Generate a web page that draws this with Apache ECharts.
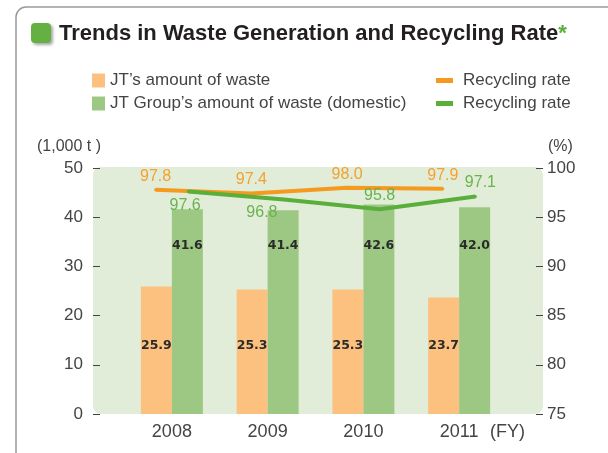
<!DOCTYPE html>
<html>
<head>
<meta charset="utf-8">
<script src="https://cdn.jsdelivr.net/npm/echarts@6/dist/echarts.min.js"></script>
<style>
  html, body { margin: 0; padding: 0; background: #fff; }
  #chart { width: 608px; height: 453px; }
</style>
</head>
<body>
<div id="chart"></div>
<script>
var years = ['2008', '2009', '2010', '2011'];
var jtWaste = [25.9, 25.3, 25.3, 23.7];
var groupWaste = [41.6, 41.4, 42.6, 42.0];
var jtRate = [97.8, 97.4, 98.0, 97.9];
var groupRate = [97.6, 96.8, 95.8, 97.1];
var leftTicks = { min: 0, max: 50, interval: 10 };
var rightTicks = { min: 75, max: 100, interval: 5 };

var FONT = '"Liberation Sans", Arial, sans-serif';
var textGrey = '#444';

// lines sit over their own bar, not on the category centre
function shifted(vals, shift) {
  return vals.map(function (v, i) { return [i + shift, v]; });
}
// green labels dodge the line
var greenLabelPos = [
  { position: 'bottom', offset: [-3, 0] },
  { position: 'bottom', offset: [-22, 0] },
  { position: 'top', offset: [0, 0] },
  { position: 'top', offset: [5, 0] }
];

var chart = echarts.init(document.getElementById('chart'), null, { renderer: 'canvas' });

var option = {
  animation: false,
  backgroundColor: '#fff',
  textStyle: { fontFamily: FONT },
  title: {
    left: 59,
    top: 23,
    padding: 0,
    text: '{a|Trends in Waste Generation and Recycling Rate}{b|*}',
    textStyle: {
      rich: {
        a: { fontFamily: FONT, fontWeight: 'bold', fontSize: 22, color: '#231f20' },
        b: { fontFamily: FONT, fontWeight: 'bold', fontSize: 22, color: '#5aae3a', verticalAlign: 'top' }
      }
    }
  },
  legend: [{
    left: 92,
    top: 72,
    padding: 0,
    orient: 'vertical',
    itemWidth: 13,
    itemHeight: 14,
    itemGap: 6,
    icon: 'rect',
    textStyle: { fontFamily: FONT, fontSize: 17, color: textGrey, lineHeight: 17 },
    data: ['JT\u2019s amount of waste', 'JT Group\u2019s amount of waste (domestic)']
  }, {
    left: 436,
    top: 72,
    padding: 0,
    orient: 'vertical',
    itemWidth: 17,
    itemHeight: 5,
    itemGap: 6,
    icon: 'rect',
    textStyle: { fontFamily: FONT, fontSize: 17, color: textGrey, lineHeight: 17, padding: [0, 0, 0, 5] },
    formatter: function () { return 'Recycling rate'; },
    data: ['rate-jt', 'rate-group']
  }],
  graphic: [
    { type: 'rect', z: -10, shape: { x: 16, y: 7, width: 800, height: 600, r: 10 },
      style: { fill: '#fff', stroke: '#9a9a9a', lineWidth: 1.5 } },
    { type: 'rect', z: -10, shape: { x: 31, y: 23, width: 20, height: 20, r: 4 },
      style: { fill: '#64b043', shadowBlur: 3, shadowOffsetX: 2, shadowOffsetY: 2, shadowColor: 'rgba(0,0,0,0.35)' } },
    { type: 'rect', z: -5, shape: { x: 93, y: 167, width: 450, height: 247, r: 8 },
      style: { fill: '#e1edd9' } },
    { type: 'text', left: 37, top: 139,
      style: { text: '(1,000 t )', fontFamily: FONT, fontSize: 16, fill: textGrey } },
    { type: 'text', left: 548, top: 139,
      style: { text: '(%)', fontFamily: FONT, fontSize: 16, fill: textGrey } },
    { type: 'text', left: 490, top: 423,
      style: { text: '(FY)', fontFamily: FONT, fontSize: 18, fill: textGrey } }
  ],
  grid: { left: 124, right: 101, top: 168, bottom: 39 },
  xAxis: [{
    type: 'category',
    data: years,
    axisLine: { show: false, onZero: false },
    axisTick: { show: false },
    axisLabel: { fontFamily: FONT, fontSize: 18, color: textGrey, margin: 9 }
  }, {
    type: 'value',
    min: -0.5,
    max: 3.5,
    show: false,
    axisLine: { onZero: false }
  }],
  yAxis: [{
    type: 'value',
    position: 'left',
    offset: 31,
    min: leftTicks.min,
    max: leftTicks.max,
    interval: leftTicks.interval,
    axisLine: { show: false, onZero: false },
    axisTick: { show: true, inside: true, length: 7, lineStyle: { color: textGrey } },
    splitLine: { show: false },
    axisLabel: { fontFamily: FONT, fontSize: 17, color: textGrey, margin: 10 }
  }, {
    type: 'value',
    position: 'right',
    offset: 36,
    min: rightTicks.min,
    max: rightTicks.max,
    interval: rightTicks.interval,
    axisLine: { show: false, onZero: false },
    axisTick: { show: true, inside: true, length: 7, lineStyle: { color: textGrey } },
    splitLine: { show: false },
    axisLabel: { fontFamily: FONT, fontSize: 17, color: textGrey, margin: 4 }
  }],
  series: [{
    name: 'JT\u2019s amount of waste',
    type: 'bar',
    barWidth: 31,
    barGap: '0%',
    data: jtWaste,
    itemStyle: { color: '#fdc17f' },
    label: {
      show: true, position: 'insideBottom', distance: 62,
      fontFamily: '"DejaVu Sans", sans-serif', fontWeight: 'bold', fontSize: 12.5, color: '#2b2b2b',
      formatter: function (p) { return p.value.toFixed(1); }
    }
  }, {
    name: 'JT Group\u2019s amount of waste (domestic)',
    type: 'bar',
    barWidth: 31,
    barGap: '0%',
    data: groupWaste,
    itemStyle: { color: '#9dc884' },
    label: {
      show: true, position: 'insideBottom', distance: 162,
      fontFamily: '"DejaVu Sans", sans-serif', fontWeight: 'bold', fontSize: 12.5, color: '#2b2b2b',
      formatter: function (p) { return p.value.toFixed(1); }
    }
  }, {
    name: 'rate-jt',
    type: 'line',
    xAxisIndex: 1,
    yAxisIndex: 1,
    data: shifted(jtRate, -0.17),
    showSymbol: true,
    symbol: 'circle',
    symbolSize: 3,
    lineStyle: { color: '#f39a1f', width: 4 },
    itemStyle: { color: '#f39a1f' },
    label: {
      show: true, position: 'top', distance: 4,
      fontFamily: FONT, fontSize: 16, color: '#f4a12e',
      formatter: function (p) { return p.value[1].toFixed(1); }
    },
    z: 5
  }, {
    name: 'rate-group',
    type: 'line',
    xAxisIndex: 1,
    yAxisIndex: 1,
    data: shifted(groupRate, 0.17).map(function (d, i) {
      return { value: d, label: greenLabelPos[i] };
    }),
    showSymbol: true,
    symbol: 'circle',
    symbolSize: 3,
    lineStyle: { color: '#5aae3a', width: 4 },
    itemStyle: { color: '#5aae3a' },
    label: {
      show: true, distance: 4,
      fontFamily: FONT, fontSize: 16, color: '#6ab34c',
      formatter: function (p) { return p.value[1].toFixed(1); }
    },
    z: 6
  }]
};

chart.setOption(option);
</script>
</body>
</html>
